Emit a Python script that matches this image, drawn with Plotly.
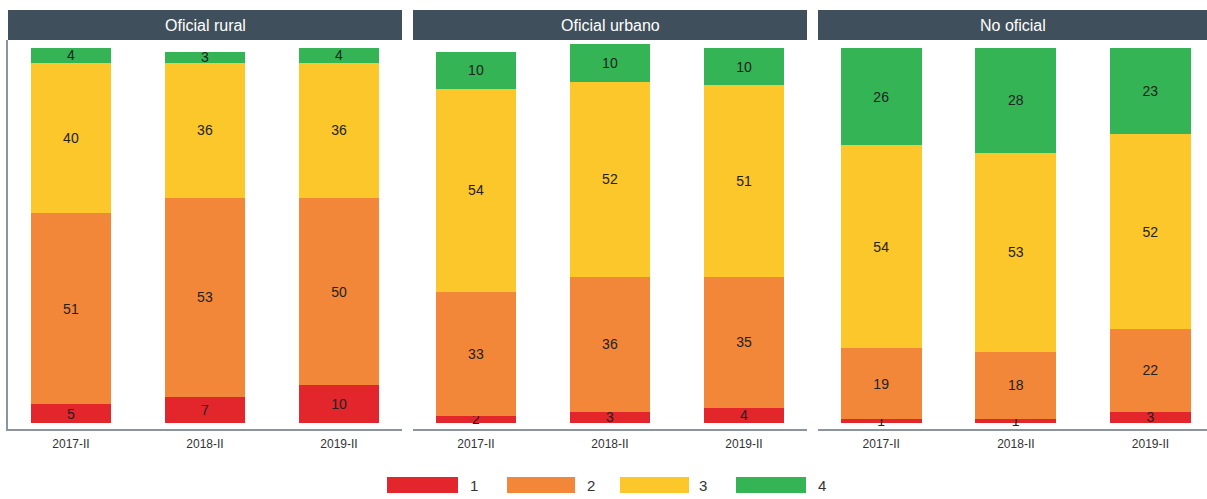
import plotly.graph_objects as go

panels = ["Oficial rural", "Oficial urbano", "No oficial"]
periods = ["2017-II", "2018-II", "2019-II"]
levels = ["1", "2", "3", "4"]
colors = ["#e3262b", "#f2873a", "#fcc72a", "#35b456"]

# values[panel][level] -> list over periods
rural = {"1": [5, 7, 10], "2": [51, 53, 50], "3": [40, 36, 36], "4": [4, 3, 4]}
urbano = {"1": [2, 3, 4], "2": [33, 36, 35], "3": [54, 52, 51], "4": [10, 10, 10]}
no_oficial = {"1": [1, 1, 3], "2": [19, 18, 22], "3": [54, 53, 52], "4": [26, 28, 23]}
data = [rural, urbano, no_oficial]

W, H = 1207, 499
px_dom = [(8, 402), (413, 807), (818, 1207)]
xranges = [[-0.47, 2.47], [-0.47, 2.47], [-0.47, 2.42]]
y_top_px, y_bot_px = 40, 429
ydom = [(H - y_bot_px) / H, (H - y_top_px) / H]

fig = go.Figure()
for i, (name, d) in enumerate(zip(panels, data)):
    xa = "x" if i == 0 else f"x{i+1}"
    ya = "y" if i == 0 else f"y{i+1}"
    for lev, col in zip(levels, colors):
        fig.add_trace(go.Bar(
            x=periods, y=d[lev], name=lev, marker=dict(color=col, line=dict(width=0)),
            text=d[lev], texttemplate="%{text}", textposition="inside",
            insidetextanchor="middle", constraintext="none", textangle=0,
            textfont=dict(size=14, color="#222222", family="Liberation Sans"),
            width=0.6, xaxis=xa, yaxis=ya, showlegend=False, hoverinfo="skip",
        ))

layout = dict(
    width=W, height=H, barmode="stack", plot_bgcolor="white", paper_bgcolor="white",
    margin=dict(l=0, r=0, t=0, b=0),
    font=dict(family="Liberation Sans", color="#333333"),
)
shapes = []
annotations = []
for i in range(3):
    sfx = "" if i == 0 else str(i + 1)
    x0, x1 = px_dom[i]
    layout["xaxis" + sfx] = dict(
        domain=[x0 / W, x1 / W], range=xranges[i], showgrid=False, zeroline=False,
        showline=True, linecolor="#8c959b", linewidth=1.5, ticks="outside",
        ticklen=3, tickcolor="rgba(0,0,0,0)",
        tickfont=dict(size=12, color="#333333"), anchor="y" + sfx, fixedrange=True,
    )
    layout["yaxis" + sfx] = dict(
        domain=ydom, range=[-1.6, 102.1], showgrid=False, zeroline=False,
        showticklabels=False, ticks="", showline=(i == 0), linecolor="#8c959b",
        linewidth=1.5, anchor="x" + sfx, fixedrange=True,
    )
    shapes.append(dict(type="rect", xref="paper", yref="paper",
                       x0=x0 / W, x1=x1 / W, y0=(H - 40) / H, y1=(H - 10) / H,
                       fillcolor="#3f4f5b", line=dict(width=0)))
    annotations.append(dict(text=panels[i], xref="paper", yref="paper",
                            x=(x0 + x1) / 2 / W, y=(H - 25) / H, showarrow=False,
                            xanchor="center", yanchor="middle",
                            font=dict(size=16, color="white", family="Liberation Sans")))

# custom legend
leg_sw = [(387, 458), (507, 575), (620, 689), (736, 806)]
leg_lab = [474, 591, 703, 822]
for lev, col, (a, b), lx in zip(levels, colors, leg_sw, leg_lab):
    shapes.append(dict(type="rect", xref="paper", yref="paper",
                       x0=a / W, x1=b / W, y0=(H - 493) / H, y1=(H - 477) / H,
                       fillcolor=col, line=dict(width=0)))
    annotations.append(dict(text=lev, xref="paper", yref="paper", x=lx / W,
                            y=(H - 485) / H, showarrow=False, xanchor="center",
                            yanchor="middle", font=dict(size=15, color="#333333")))

layout["shapes"] = shapes
layout["annotations"] = annotations
fig.update_layout(**layout)
fig.write_html("out.html", config={"displayModeBar": False},
               post_script="document.body.style.margin='0';document.body.style.overflow='hidden';")
